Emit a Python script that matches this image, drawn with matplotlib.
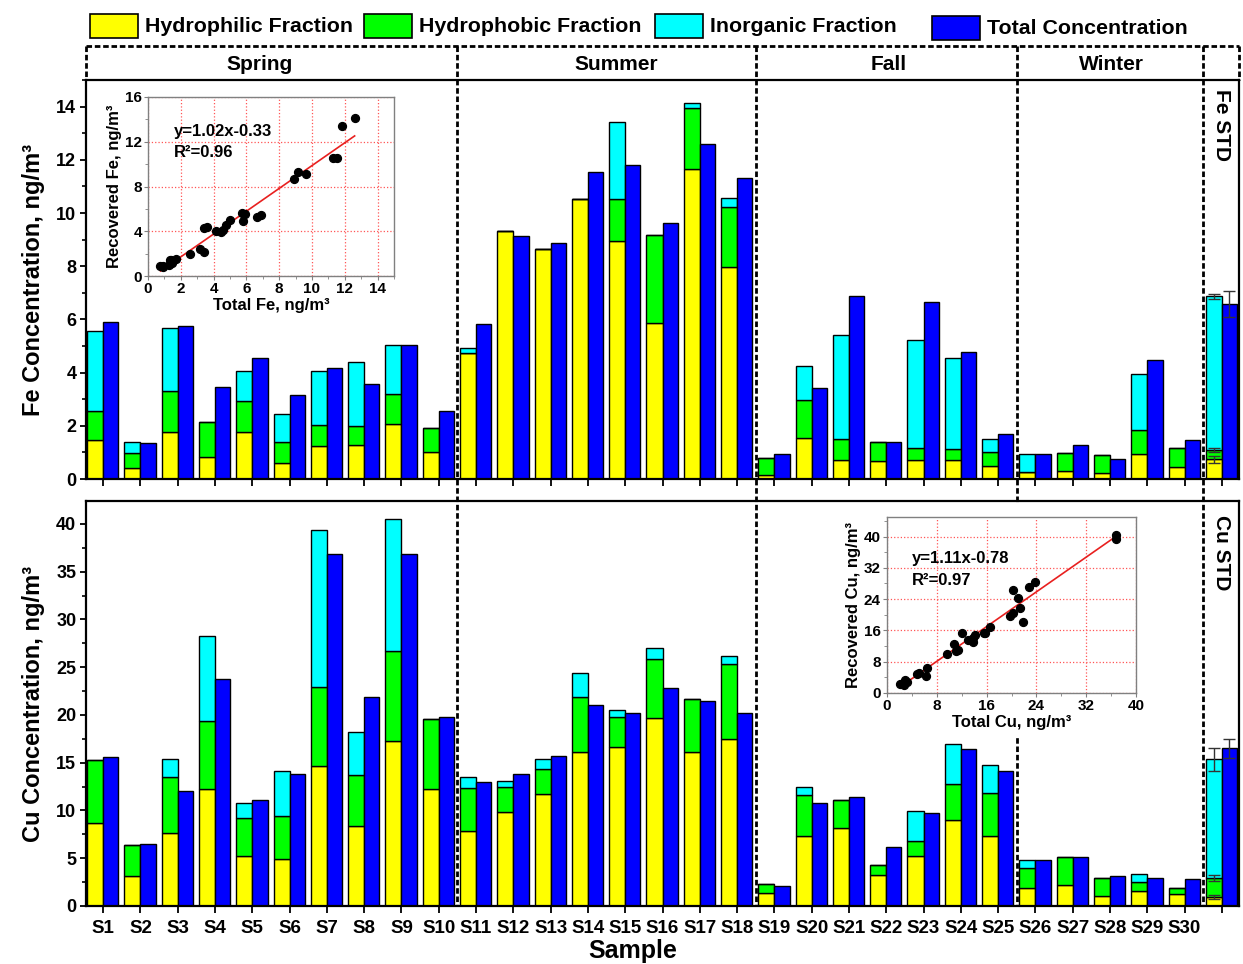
import numpy as np
import matplotlib.pyplot as plt
import matplotlib.transforms as mtransforms
from matplotlib.lines import Line2D
from matplotlib.patches import Rectangle
from matplotlib.ticker import MultipleLocator

plt.rcParams['font.family'] = ['Liberation Sans', 'DejaVu Sans']
plt.rcParams['font.weight'] = 'bold'
plt.rcParams['axes.labelweight'] = 'bold'

W, H = 1243, 964

samples = ['S%d' % i for i in range(1, 31)] + ['']
seasons = ['Spring', 'Summer', 'Fall', 'Winter']
season_x = [5.2, 14.77, 22.06, 28.04]
season_breaks = [10.5, 18.5, 25.5, 30.5]

# Fe, ng/m3 (last entry = standard reference)
fe_hydrophilic = [1.46, 0.43, 1.75, 0.81, 1.75, 0.59, 1.25, 1.28, 2.05, 1.03,
                  4.72, 9.33, 8.66, 10.52, 8.96, 5.88, 11.65, 7.98,
                  0.15, 1.53, 0.71, 0.66, 0.70, 0.73, 0.48,
                  0.25, 0.29, 0.24, 0.94, 0.46,
                  0.74]
fe_hydrophobic = [1.09, 0.53, 1.55, 1.32, 1.19, 0.79, 0.78, 0.71, 1.14, 0.90,
                  0.00, 0.00, 0.00, 0.00, 1.58, 3.28, 2.30, 2.26,
                  0.63, 1.44, 0.78, 0.73, 0.48, 0.41, 0.55,
                  0.00, 0.67, 0.66, 0.91, 0.72,
                  0.35]
fe_inorganic = [3.02, 0.44, 2.36, 0.00, 1.13, 1.05, 2.02, 2.41, 1.86, 0.00,
                0.22, 0.00, 0.00, 0.00, 2.87, 0.00, 0.18, 0.32,
                0.00, 1.28, 3.94, 0.00, 4.06, 3.41, 0.46,
                0.68, 0.00, 0.00, 2.08, 0.00,
                5.78]
fe_total = [5.91, 1.34, 5.76, 3.44, 4.55, 3.15, 4.17, 3.57, 5.03, 2.55,
            5.81, 9.15, 8.88, 11.54, 11.81, 9.64, 12.60, 11.31,
            0.94, 3.43, 6.88, 1.38, 6.66, 4.78, 1.69,
            0.93, 1.26, 0.76, 4.48, 1.46,
            6.57]
fe_std_err = [0.12, 0.06, 0.10, 0.48]

# Cu, ng/m3 (last entry = standard reference)
cu_hydrophilic = [8.72, 3.14, 7.68, 12.29, 5.27, 4.96, 14.69, 8.41, 17.31, 12.29,
                  7.85, 9.88, 11.69, 16.16, 16.61, 19.72, 16.16, 17.49,
                  1.33, 7.33, 8.13, 3.21, 5.20, 9.01, 7.36,
                  1.85, 2.17, 1.05, 1.57, 1.29,
                  0.91]
cu_hydrophobic = [6.57, 3.21, 5.86, 7.08, 3.91, 4.46, 8.21, 5.31, 9.39, 7.32,
                  4.54, 2.58, 2.69, 5.76, 3.21, 6.11, 5.55, 7.81,
                  0.94, 4.29, 2.93, 1.12, 1.61, 3.76, 4.44,
                  2.10, 3.00, 1.85, 0.91, 0.63,
                  1.99]
cu_inorganic = [0.00, 0.00, 1.89, 8.93, 1.64, 4.68, 16.47, 4.47, 13.79, 0.00,
                1.08, 0.66, 0.98, 2.44, 0.74, 1.15, 0.00, 0.91,
                0.00, 0.81, 0.00, 0.00, 3.11, 4.19, 2.96,
                0.83, 0.00, 0.00, 0.84, 0.00,
                12.46]
cu_total = [15.64, 6.49, 12.01, 23.77, 11.13, 13.79, 36.86, 21.92, 36.83, 19.82,
            13.02, 13.79, 15.74, 21.01, 20.21, 22.79, 21.43, 20.21,
            2.13, 10.82, 11.41, 6.21, 9.71, 16.47, 14.14,
            4.78, 5.17, 3.14, 2.97, 2.79,
            16.51]
cu_std_err = [0.20, 0.30, 1.22, 1.00]

fe_fit = (1.02, -0.33, 0.96)
cu_fit = (1.11, -0.78, 0.97)

legend_names = ['Hydrophilic Fraction', 'Hydrophobic Fraction',
                'Inorganic Fraction', 'Total Concentration']
colors = ['#ffff00', '#00ff00', '#00ffff', '#0000ff']
legend_px = [90, 364, 655, 932]

bw = 0.43


def fig_box(x0, y0, x1, y1):
    # pixel box (top-left origin) -> figure fraction rect
    return [x0 / W, 1 - y1 / H, (x1 - x0) / W, (y1 - y0) / H]


def draw_bars(ax, phil, phob, inorg, total, err):
    phil, phob, inorg, total = map(np.asarray, (phil, phob, inorg, total))
    x = np.arange(1, len(total) + 1)
    kw = dict(edgecolor='black', linewidth=1.0, align='edge', zorder=2)
    ax.bar(x, phil, -bw, color=colors[0], **kw)
    ax.bar(x, phob, -bw, bottom=phil, color=colors[1], **kw)
    ax.bar(x, inorg, -bw, bottom=phil + phob, color=colors[2], **kw)
    ax.bar(x, total, bw * 0.95, color=colors[3], **kw)
    tops = np.cumsum([phil[-1], phob[-1], inorg[-1]])
    ebkw = dict(fmt='none', ecolor='#333333', elinewidth=1.0, capsize=4,
                capthick=1.0, zorder=3)
    ax.errorbar([x[-1] - bw / 2] * 3, tops, yerr=err[:3], **ebkw)
    ax.errorbar([x[-1] + bw * 0.95 / 2], [total[-1]], yerr=[err[3]], **ebkw)
    return phil + phob + inorg


def style_main(ax, ymax, major, minor):
    ax.set_xlim(0.54, 31.46)
    ax.set_ylim(0, ymax)
    ax.set_xticks(np.arange(1, 32))
    ax.yaxis.set_major_locator(MultipleLocator(major))
    ax.yaxis.set_minor_locator(MultipleLocator(minor))
    for s in ax.spines.values():
        s.set_linewidth(1.6)
    ax.tick_params(axis='y', which='major', direction='out', length=4,
                   width=1.3, labelsize=13, pad=3)
    ax.tick_params(axis='y', which='minor', direction='out', length=3, width=1.2)
    ax.tick_params(axis='x', direction='out', length=5, width=1.3,
                   labelsize=13.5, pad=5)
    ax.set_facecolor('none')


def draw_inset(rect, total, recovered, fit, xmax, xstep, ymax, ystep,
               name, eq_xy, r2_xy):
    ins = fig.add_axes(rect, zorder=5)
    ins.set_facecolor('white')
    ins.scatter(total, recovered, s=32, color='black', zorder=3)
    xs = np.array([min(total), max(total)])
    ins.plot(xs, fit[0] * xs + fit[1], color='#e8201f', lw=1.2, zorder=2)
    ins.set_xlim(0, xmax)
    ins.set_ylim(0, ymax)
    ins.xaxis.set_major_locator(MultipleLocator(xstep))
    ins.yaxis.set_major_locator(MultipleLocator(ystep))
    ins.xaxis.set_minor_locator(MultipleLocator(xstep / 2))
    ins.yaxis.set_minor_locator(MultipleLocator(ystep / 2))
    ins.grid(True, which='major', color='#ff5555', linestyle=':', linewidth=0.9)
    for s in ins.spines.values():
        s.set_color('#808080')
        s.set_linewidth(1.0)
    ins.tick_params(which='major', direction='out', length=3, width=0.8,
                    color='#808080', labelsize=11, pad=1.5)
    ins.tick_params(which='minor', direction='out', length=2, width=0.6,
                    color='#808080')
    ins.set_xlabel('Total %s, ng/m³' % name, fontsize=12, labelpad=1)
    ins.set_ylabel('Recovered %s, ng/m³' % name, fontsize=12, labelpad=2)
    sign = '-' if fit[1] < 0 else '+'
    ins.text(eq_xy[0], eq_xy[1], 'y=%.2fx%s%.2f' % (fit[0], sign, abs(fit[1])),
             fontsize=12, va='center')
    ins.text(r2_xy[0], r2_xy[1], 'R²=%.2f' % fit[2], fontsize=12, va='center')
    return ins


fig = plt.figure(figsize=(W / 100, H / 100), dpi=100)
ax_fe = fig.add_axes(fig_box(86, 80, 1239, 479))
ax_cu = fig.add_axes(fig_box(86, 501, 1239, 906))

fe_recovered = draw_bars(ax_fe, fe_hydrophilic, fe_hydrophobic, fe_inorganic,
                         fe_total, fe_std_err)
cu_recovered = draw_bars(ax_cu, cu_hydrophilic, cu_hydrophobic, cu_inorganic,
                         cu_total, cu_std_err)

style_main(ax_fe, 15, 2, 1)
style_main(ax_cu, 42.4, 5, 2.5)
ax_fe.set_xticklabels([])
ax_cu.set_xticklabels(samples)
ax_fe.set_ylabel('Fe Concentration, ng/m³', fontsize=17, labelpad=8)
ax_cu.set_ylabel('Cu Concentration, ng/m³', fontsize=17, labelpad=8)
ax_cu.set_xlabel('Sample', fontsize=18)
ax_cu.xaxis.set_label_coords((633 - 86) / 1153, -33 / 405)

ax_fe.text(31, 13.3, 'Fe STD', rotation=-90, ha='center', va='center', fontsize=15)
ax_cu.text(31, 37.0, 'Cu STD', rotation=-90, ha='center', va='center', fontsize=15)

# season header strip and dashed dividers
dash = (0, (2, 1))
y_head = 1 - 46 / H
y_axtop = 1 - 80 / H
y_bottom = 1 - 906 / H
bt_ax = mtransforms.blended_transform_factory(ax_fe.transAxes, fig.transFigure)
bt_data = mtransforms.blended_transform_factory(ax_fe.transData, fig.transFigure)
for xs, ys in [([0, 1], [y_head, y_head]), ([0, 0], [y_head, y_axtop]),
               ([1, 1], [y_head, y_axtop])]:
    fig.add_artist(Line2D(xs, ys, transform=bt_ax, color='black', lw=2,
                          linestyle=dash, zorder=1))
for xb in season_breaks:
    fig.add_artist(Line2D([xb, xb], [y_head, y_bottom], transform=bt_data,
                          color='black', lw=2, linestyle=dash, zorder=1))
for name, xc in zip(seasons, season_x):
    fig.text(xc, 1 - 64 / H, name, transform=bt_data, ha='center', va='center',
             fontsize=15)

# legend
for name, c, x0 in zip(legend_names, colors, legend_px):
    dy = 2 if c == colors[3] else 0
    fig.add_artist(Rectangle((x0 / W, 1 - (38 + dy) / H), 48 / W, 24 / H,
                             transform=fig.transFigure, facecolor=c,
                             edgecolor='black', lw=1.2, zorder=2))
    fig.text((x0 + 55) / W, 1 - (26 + dy) / H, name, ha='left', va='center',
             fontsize=15.4)

# white backing behind the Cu inset so the divider does not show through
fig.add_artist(Rectangle((835 / W, 1 - 736 / H), 320 / W, 232 / H,
                         transform=fig.transFigure, facecolor='white',
                         edgecolor='none', zorder=4))

draw_inset(fig_box(148, 97, 394, 276), fe_total[:30], fe_recovered[:30], fe_fit,
           15, 2, 16, 4, 'Fe', (1.55, 12.9), (1.55, 11.0))
draw_inset(fig_box(887, 517, 1136, 693), cu_total[:30], cu_recovered[:30], cu_fit,
           40, 8, 45, 8, 'Cu', (4.0, 34.3), (4.0, 28.8))

fig.savefig('out.png', dpi=100)
